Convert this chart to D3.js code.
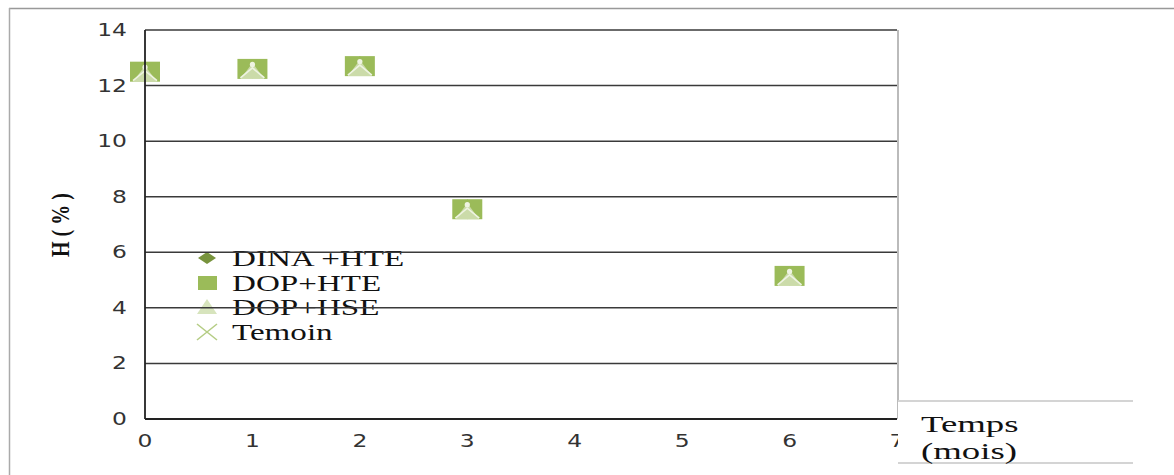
<!DOCTYPE html>
<html><head><meta charset="utf-8">
<script src="https://cdn.jsdelivr.net/npm/d3@7"></script>
<style>body{margin:0;background:#fff}svg{display:block}</style>
</head><body>
<script>
const months = [0, 1, 2, 3, 6];
const dinaHTE = [12.5, 12.6, 12.7, 7.55, 5.15];
const dopHTE  = [12.5, 12.6, 12.7, 7.55, 5.15];
const dopHSE  = [12.5, 12.6, 12.7, 7.55, 5.15];
const temoin  = [12.5, 12.6, 12.7, 7.55, 5.15];
const seriesNames = ["DINA +HTE", "DOP+HTE", "DOP+HSE", "Temoin"];
const xTicks = [0,1,2,3,4,5,6,7];
const yTicks = [0,2,4,6,8,10,12,14];

const W = 1174, H = 475, SX = 1.3;
const svg = d3.select("body").append("svg").attr("width", W).attr("height", H);
const x = d3.scaleLinear().domain([0,7]).range([145, 897]);
const y = d3.scaleLinear().domain([0,14]).range([419, 30]);

// outer frame
svg.append("line").attr("x1",9).attr("x2",W).attr("y1",8.5).attr("y2",8.5).attr("stroke","#999").attr("stroke-width",1.5);
svg.append("line").attr("x1",9.5).attr("x2",9.5).attr("y1",8).attr("y2",H).attr("stroke","#aaa").attr("stroke-width",1.5);

function stext(g, tx, ty, str, opts, sx) {
  const t = g.append("text").attr("transform", `translate(${tx},${ty}) scale(${sx||SX},1)`)
    .text(str);
  Object.entries(opts||{}).forEach(([k,v]) => t.attr(k, v));
  return t;
}
const tickFont = "'DejaVu Sans', sans-serif";
const gt = svg.append("g").attr("font-family", tickFont).attr("font-size", 18).attr("fill","#333");
yTicks.forEach(d => stext(gt, 127, y(d)+6, d, {"text-anchor":"end"}));
xTicks.forEach(d => stext(gt, x(d), 447, d, {"text-anchor":"middle"}));

// markers
const cols = {dia:"#77933C", sq:"#9BBB59", tri:"#D7E4BD", x:"#B5CD85"};
function markerPlot(g, cx, cy, type){
  const w=15,h=10;
  if (type===0) g.append("path").attr("d",`M${cx},${cy-h} L${cx+w*0.5},${cy} L${cx},${cy+h} L${cx-w*0.5},${cy}Z`).attr("fill",cols.dia);
  if (type===1) g.append("rect").attr("x",cx-w).attr("y",cy-h).attr("width",2*w).attr("height",2*h).attr("fill",cols.sq);
  if (type===2) g.append("path").attr("d",`M${cx},${cy-h*0.6} L${cx+w*0.8},${cy+h} L${cx-w*0.8},${cy+h}Z`).attr("fill",cols.tri).attr("opacity",0.8);
  if (type===3) {
    g.append("path").attr("d",`M${cx-w*0.8},${cy+h*0.9} L${cx},${cy-h*0.1} L${cx+w*0.8},${cy+h*0.9}`).attr("stroke","#eef3e2").attr("stroke-width",1.6).attr("fill","none");
    g.append("circle").attr("cx",cx).attr("cy",cy-h*0.45).attr("r",2.6).attr("fill","#eef3e2");
  }
}
const allSeries = [dinaHTE, dopHTE, dopHSE, temoin];
const gm = svg.append("g");
allSeries.forEach((vals, si) => {
  vals.forEach((v, i) => markerPlot(gm, x(months[i]), y(v), si));
});

// legend
const gl = svg.append("g");
const legY = [258, 283, 307, 332];
seriesNames.forEach((n, i) => {
  const cy = legY[i];
  if (i === 0) gl.append("path").attr("d",`M207,${cy-6} L216,${cy} L207,${cy+6} L198,${cy}Z`).attr("fill",cols.dia);
  if (i === 1) gl.append("rect").attr("x",198).attr("y",cy-7).attr("width",19).attr("height",14).attr("fill",cols.sq);
  if (i === 2) gl.append("path").attr("d",`M207,${cy-8} L217,${cy+7} L197,${cy+7}Z`).attr("fill",cols.tri);
  if (i === 3) gl.append("path").attr("d",`M197,${cy-8} L217,${cy+8} M217,${cy-8} L197,${cy+8}`).attr("stroke",cols.x).attr("stroke-width",1.6);
  stext(gl, 232, cy+8, n, {"font-family":"'Liberation Serif', serif","font-size":23,"fill":"#111"}, 1.44);
});

// gridlines (drawn over the legend text, as in the reference)
svg.append("g").selectAll("line").data(yTicks.filter(d=>d>0)).join("line")
  .attr("x1", x(0)).attr("x2", x(7)).attr("y1", d=>y(d)).attr("y2", d=>y(d))
  .attr("stroke","#3a3a3a").attr("stroke-width",1.5);
// right border
svg.append("line").attr("x1",x(7)+1).attr("x2",x(7)+1).attr("y1",y(14)).attr("y2",y(0))
  .attr("stroke","#bbb").attr("stroke-width",2);
// axes
svg.append("line").attr("x1",x(0)).attr("x2",x(0)).attr("y1",y(14)).attr("y2",y(0)).attr("stroke","#222").attr("stroke-width",1.8);
svg.append("line").attr("x1",x(0)).attr("x2",x(7)).attr("y1",y(0)).attr("y2",y(0)).attr("stroke","#222").attr("stroke-width",1.8);

// Temps box (covers part of the "7")
svg.append("rect").attr("x",898).attr("y",402).attr("width",236).attr("height",60).attr("fill","#fff");
svg.append("line").attr("x1",898).attr("x2",1133).attr("y1",401).attr("y2",401).attr("stroke","#d4d4d4").attr("stroke-width",2);
svg.append("line").attr("x1",898).attr("x2",1133).attr("y1",463).attr("y2",463).attr("stroke","#d4d4d4").attr("stroke-width",2);
const gs = svg.append("g").attr("font-family","'Liberation Serif', 'Times New Roman', serif").attr("font-size",23).attr("fill","#111");
stext(gs, 921, 432, "Temps", {}, 1.6);
stext(gs, 921, 459, "(mois)", {}, 1.6);

// y label
svg.append("text").attr("transform","translate(69,225) rotate(-90) scale(1,1.3)")
  .attr("text-anchor","middle").attr("font-family","'Liberation Serif', serif").attr("font-weight","bold")
  .attr("font-size",20).attr("fill","#111").text("H ( % )");
</script>
</body></html>
